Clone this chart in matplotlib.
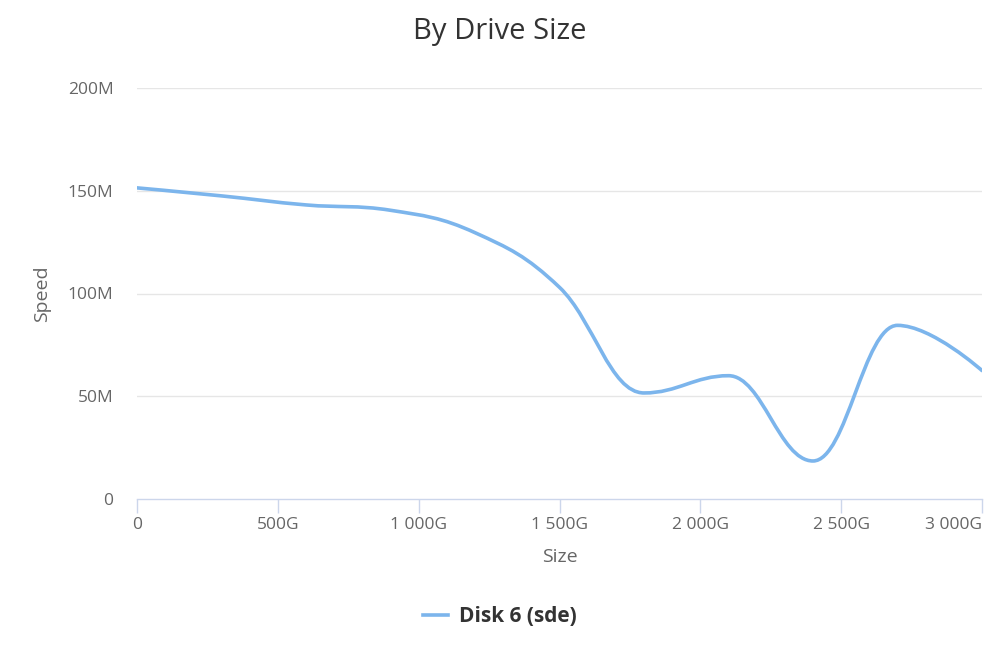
import numpy as np
import matplotlib
matplotlib.use("Agg")
import matplotlib.pyplot as plt
from matplotlib.path import Path
from matplotlib.patches import PathPatch
from matplotlib.lines import Line2D

# Data (size in GB, speed in MB/s)
sizes = [0, 300, 600, 900, 1200, 1500, 1800, 2100, 2400, 2700, 3000]
speeds = [151.4, 147.5, 143.1, 140.5, 129.6, 103.0, 51.6, 60.0, 18.5, 84.5, 62.5]
x_ticks = [0, 500, 1000, 1500, 2000, 2500, 3000]
x_tick_labels = ["0", "500G", "1 000G", "1 500G", "2 000G", "2 500G", "3 000G"]
y_ticks = [0, 50, 100, 150, 200]
y_tick_labels = ["0", "50M", "100M", "150M", "200M"]
series_name = "Disk 6 (sde)"

LINE = "#7cb5ec"
TXT = "#666666"

plt.rcParams['font.family'] = ['Open Sans', 'DejaVu Sans']

fig = plt.figure(figsize=(10, 6.67), dpi=100)
ax = fig.add_axes([0.137, 1 - 499 / 667, 0.982 - 0.137, (499 - 88) / 667])
ax.set_xlim(0, 3000)
ax.set_ylim(0, 200)


def spline_path(xs, ys, smoothing=1.5):
    """Highcharts-style smooth spline through the points (in data coords)."""
    denom = smoothing + 1
    n = len(xs)
    left = [None] * n
    right = [None] * n
    for i in range(n):
        px, py = xs[i], ys[i]
        if 0 < i < n - 1:
            lx, ly = xs[i - 1], ys[i - 1]
            nx, ny = xs[i + 1], ys[i + 1]
            lcx = (smoothing * px + lx) / denom
            lcy = (smoothing * py + ly) / denom
            rcx = (smoothing * px + nx) / denom
            rcy = (smoothing * py + ny) / denom
            if rcx != lcx:
                corr = ((rcy - lcy) * (rcx - px)) / (rcx - lcx) + py - rcy
                lcy += corr
                rcy += corr
            if lcy > ly and lcy > py:
                lcy = max(ly, py)
                rcy = 2 * py - lcy
            elif lcy < ly and lcy < py:
                lcy = min(ly, py)
                rcy = 2 * py - lcy
            if rcy > ny and rcy > py:
                rcy = max(ny, py)
                lcy = 2 * py - rcy
            elif rcy < ny and rcy < py:
                rcy = min(ny, py)
                lcy = 2 * py - rcy
            left[i] = (lcx, lcy)
            right[i] = (rcx, rcy)
        else:
            left[i] = (px, py)
            right[i] = (px, py)
    verts = [(xs[0], ys[0])]
    codes = [Path.MOVETO]
    for i in range(1, n):
        verts += [right[i - 1], left[i], (xs[i], ys[i])]
        codes += [Path.CURVE4] * 3
    return Path(verts, codes)


for y in y_ticks[1:]:
    ax.axhline(y, color="#e6e6e6", lw=1, zorder=0)

patch = PathPatch(spline_path(sizes, speeds), facecolor="none", edgecolor=LINE,
                  lw=2.6, capstyle="round", joinstyle="round", zorder=3)
ax.add_patch(patch)

for s in ["top", "right", "left"]:
    ax.spines[s].set_visible(False)
ax.spines["bottom"].set_color("#ccd6eb")
ax.spines["bottom"].set_linewidth(1)

ax.set_xticks(x_ticks)
ax.set_xticklabels(x_tick_labels)
ax.tick_params(axis="x", length=10, width=1, color="#ccd6eb", labelsize=12.5,
               labelcolor=TXT, pad=3)
ax.get_xticklabels()[-1].set_horizontalalignment("right")

ax.set_yticks(y_ticks)
ax.set_yticklabels(y_tick_labels)
ax.tick_params(axis="y", length=0, labelsize=12.5, labelcolor=TXT, pad=17)

ax.set_xlabel("Size", fontsize=14, color=TXT, labelpad=11)
ax.set_ylabel("Speed", fontsize=14, color=TXT, labelpad=12)

fig.text(0.5, 1 - 31 / 667, "By Drive Size", ha="center", va="center",
         fontsize=21, color="#333333")

handle = Line2D([], [], color=LINE, lw=2.6)
fig.legend([handle], [series_name], loc="center", bbox_to_anchor=(0.5, 1 - 617 / 667),
           frameon=False, prop={"weight": "bold", "size": 15}, labelcolor="#333333",
           handlelength=1.2, handletextpad=0.55)

fig.savefig("out.png", dpi=100, facecolor="white")
